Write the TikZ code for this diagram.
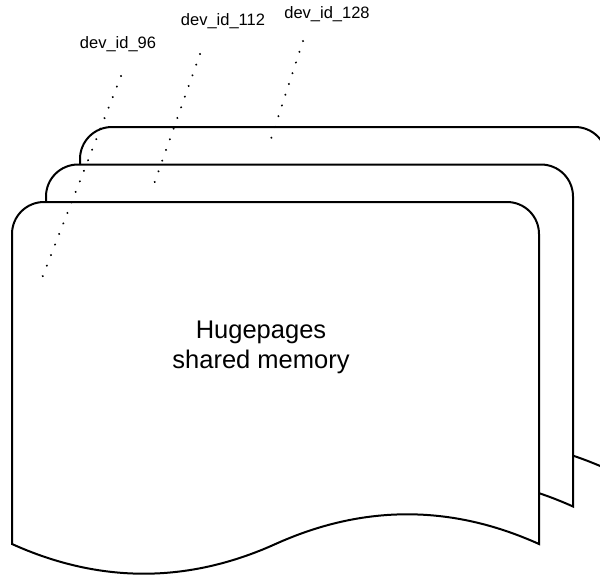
\documentclass[tikz,border=0pt]{standalone}
\usepackage{fontspec}
\setmainfont{Liberation Sans}
\begin{document}
\begin{tikzpicture}[x=1pt,y=-1pt,
  sheet/.style={draw=black,fill=white,line width=2pt,line join=miter},
  leader/.style={draw=black,line width=2.2pt,line cap=round,dash pattern=on 0.01pt off 11.3pt},
  devlabel/.style={font=\fontsize{16.5}{19}\selectfont,inner sep=0pt,anchor=center},
  pics/hpsheet/.style={code={
    % rounded top corners, wavy bottom edge
    \path[sheet] (0,342) -- (0,32)
      .. controls (0,14.3) and (14.3,0) .. (32,0)
      -- (495,0)
      .. controls (512.7,0) and (527,14.3) .. (527,32)
      -- (527,342)
      .. controls (439.2,302.4) and (351.3,302.4) .. (263.5,342)
      .. controls (175.7,381.6) and (87.8,381.6) .. (0,342)
      -- cycle;
  }}]
\useasboundingbox (0,0) rectangle (600,576);
\fill[white] (0,0) rectangle (600,576);
\clip (0,0) rectangle (600,576);

% three stacked memory sheets, back to front
\pic at (80,127) {hpsheet};
\pic at (46,164.5) {hpsheet};
\pic at (12,202) {hpsheet};

\node[font=\fontsize{25.5}{30}\selectfont,align=center,inner sep=0pt] (mem) at (261,347)
  {Hugepages\\shared memory};

% device labels
\node[devlabel] (d96) at (118,44) {dev\_id\_96};
\node[devlabel] (d112) at (223,21) {dev\_id\_112};
\node[devlabel] (d128) at (327,14) {dev\_id\_128};

% leader ends
\coordinate (s96) at (121,76);
\coordinate (e96) at (42,278);
\coordinate (s112) at (200,54);
\coordinate (e112) at (154,184);
\coordinate (s128) at (303,41);
\coordinate (e128) at (271,139);

\draw[leader] (s96) -- (e96);
\draw[leader] (s112) -- (e112);
\draw[leader] (s128) -- (e128);
\end{tikzpicture}
\end{document}
